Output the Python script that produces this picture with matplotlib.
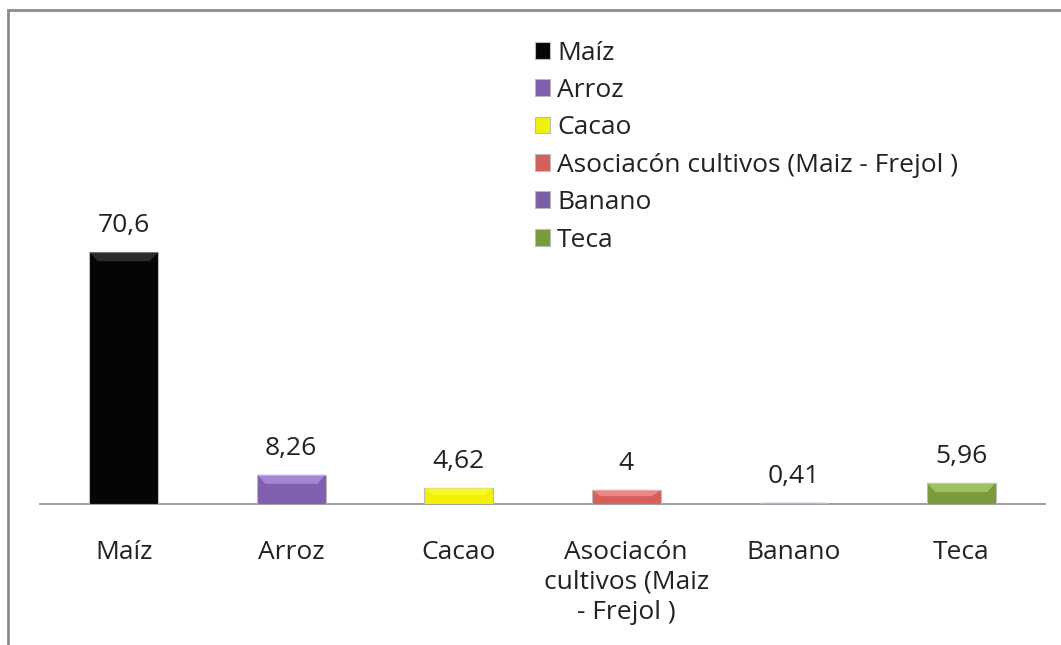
import matplotlib.pyplot as plt
import matplotlib.colors as mcolors
from matplotlib.patches import Polygon, Rectangle

# Datos
cultivos = ['Maíz', 'Arroz', 'Cacao', 'Asociacón cultivos (Maiz - Frejol )', 'Banano', 'Teca']
etiquetas_x = ['Maíz', 'Arroz', 'Cacao', 'Asociacón\ncultivos (Maiz\n- Frejol )', 'Banano', 'Teca']
valores = [70.6, 8.26, 4.62, 4, 0.41, 5.96]
colores = ['#050505', '#7e5fb0', '#f2f200', '#d65f5b', '#7b5ea8', '#7a9a3c']

plt.rcParams['font.family'] = ['Open Sans', 'DejaVu Sans']
fs = 19

fig = plt.figure(figsize=(10.61, 6.45), dpi=100)
ax = fig.add_axes([40 / 1061, (645 - 504) / 645, 1005 / 1061, 357 / 645])

# marco gris del grafico
fig.patches.append(Rectangle((8 / 1061, -0.05), 1.1, (645 - 10) / 645 + 0.05,
                             transform=fig.transFigure, fill=False,
                             edgecolor='#8c8c8c', linewidth=2))

x = range(len(valores))
ancho = 0.41
for i, (v, c, nom) in enumerate(zip(valores, colores, cultivos)):
    b = ax.bar(i, v, width=ancho, color=c, edgecolor='#bbbbbb', linewidth=0.8, label=nom, zorder=2)[0]
    # efecto bisel en la parte superior
    x0, w, h = b.get_x(), b.get_width(), b.get_height()
    d = min(2.6, h * 0.45)
    dx = 0.05
    claro = mcolors.to_rgb(c)
    claro = tuple(min(1, k + 0.25) for k in claro)
    ax.add_patch(Polygon([(x0, h), (x0 + w, h), (x0 + w - dx, h - d), (x0 + dx, h - d)],
                         closed=True, facecolor=claro, edgecolor='none', alpha=0.6, zorder=3))
    etq = f'{v:g}'.replace('.', ',')
    ax.annotate(etq, (i, v), xytext=(0, 26), textcoords='offset pixels',
                ha='center', va='center', fontsize=fs, color='#222222')

ax.set_xlim(-0.5, 5.5)
ax.set_ylim(0, 100)
ax.set_xticks(list(x))
ax.set_xticklabels(etiquetas_x, fontsize=fs, color='#222222', linespacing=1.25)
ax.tick_params(axis='x', length=0, pad=26)
ax.set_yticks([])
for s in ['top', 'right', 'left']:
    ax.spines[s].set_visible(False)
ax.spines['bottom'].set_color('#8c8c8c')
ax.spines['bottom'].set_linewidth(1.2)
ax.spines['bottom'].set_zorder(1)

ax.legend(loc='upper left', bbox_to_anchor=(524 / 1061, (645 - 30) / 645),
          bbox_transform=fig.transFigure, frameon=False, fontsize=fs,
          handlelength=0.6, handleheight=0.6, handletextpad=0.25,
          labelspacing=0.47, borderaxespad=0, labelcolor='#222222')

fig.savefig('out.png', dpi=100)
